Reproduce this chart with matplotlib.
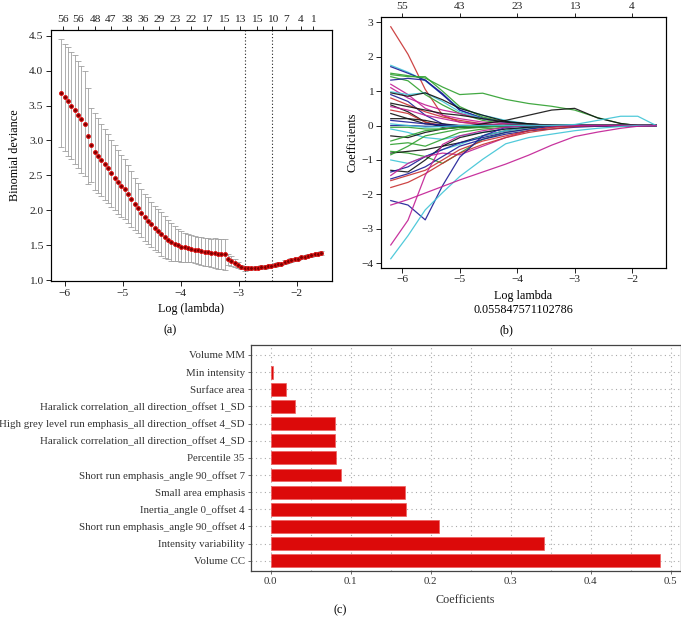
import matplotlib
matplotlib.use("Agg")
import matplotlib.pyplot as plt
import numpy as np

plt.rcParams['font.family'] = ['Liberation Serif', 'DejaVu Serif']
plt.rcParams['axes.unicode_minus'] = True

# ---------------- Panel (a): CV curve ----------------
log_lambda = [-6.06, -6.00, -5.945, -5.888, -5.83, -5.773, -5.715, -5.658, -5.60, -5.543,
              -5.485, -5.428, -5.37, -5.313, -5.255, -5.198, -5.14, -5.083, -5.025, -4.968,
              -4.91, -4.853, -4.795, -4.738, -4.68, -4.623, -4.565, -4.508, -4.45, -4.393,
              -4.335, -4.278, -4.22, -4.163, -4.105, -4.048, -3.99, -3.933, -3.875, -3.818,
              -3.76, -3.703, -3.645, -3.588, -3.53, -3.473, -3.415, -3.358, -3.30, -3.243,
              -3.185, -3.128, -3.07, -3.013, -2.955, -2.898, -2.84, -2.783, -2.725, -2.668,
              -2.61, -2.553, -2.495, -2.438, -2.38, -2.323, -2.265, -2.208, -2.15, -2.093,
              -2.035, -1.978, -1.92, -1.863, -1.805, -1.748, -1.69, -1.633, -1.575]
cv_mean = [3.68, 3.62, 3.56, 3.50, 3.44, 3.37, 3.30, 3.24, 3.06, 2.93,
           2.84, 2.78, 2.72, 2.66, 2.60, 2.53, 2.47, 2.41, 2.35, 2.30,
           2.23, 2.16, 2.09, 2.03, 1.96, 1.90, 1.85, 1.80, 1.75, 1.71,
           1.66, 1.62, 1.58, 1.55, 1.52, 1.50, 1.48, 1.47, 1.46, 1.45,
           1.44, 1.43, 1.42, 1.41, 1.40, 1.39, 1.39, 1.38, 1.38, 1.37,
           1.30, 1.28, 1.25, 1.22, 1.19, 1.17, 1.17, 1.17, 1.18, 1.18,
           1.19, 1.19, 1.20, 1.21, 1.22, 1.23, 1.24, 1.26, 1.27, 1.29,
           1.30, 1.31, 1.33, 1.34, 1.35, 1.36, 1.37, 1.38, 1.39]
cv_se = [0.77, 0.765, 0.775, 0.77, 0.78, 0.765, 0.76, 0.75, 0.685, 0.53,
         0.555, 0.535, 0.52, 0.505, 0.495, 0.475, 0.465, 0.455, 0.445, 0.43,
         0.415, 0.40, 0.375, 0.36, 0.345, 0.335, 0.335, 0.325, 0.315, 0.31,
         0.31, 0.30, 0.28, 0.27, 0.25, 0.23, 0.22, 0.21, 0.20, 0.195,
         0.19, 0.19, 0.195, 0.20, 0.20, 0.205, 0.21, 0.215, 0.215, 0.22,
         0.08, 0.07, 0.06, 0.045, 0.035, 0.03, 0.025, 0.025, 0.025, 0.025,
         0.025, 0.025, 0.025, 0.025, 0.025, 0.025, 0.025, 0.025, 0.025, 0.025,
         0.025, 0.025, 0.022, 0.022, 0.022, 0.022, 0.022, 0.022, 0.022]
lambda_min_log = -2.885
lambda_1se_log = -2.42
top_a_pos = [-6.04, -5.77, -5.48, -5.21, -4.93, -4.65, -4.38, -4.10, -3.82, -3.55,
             -3.26, -2.98, -2.69, -2.42, -2.18, -1.93, -1.72]
top_a_labels = ['56', '56', '48', '47', '38', '36', '29', '23', '22', '17',
                '15', '13', '15', '10', '7', '4', '1']

# ---------------- Panel (b): coefficient paths ----------------
path_x = [-6.2, -5.9, -5.6, -5.3, -5.0, -4.6, -4.2, -3.8, -3.4, -3.0, -2.6, -2.2, -1.9, -1.58]
paths = [
    ('red',     [2.87, 2.07, 1.05, 0.30, 0.10, 0.02, 0, 0, 0, 0, 0, 0, 0, 0]),
    ('cyan',    [1.75, 1.55, 1.30, 0.90, 0.50, 0.30, 0.15, 0.05, 0, 0, 0, 0, 0, 0]),
    ('blue',    [1.71, 1.52, 1.32, 0.90, 0.45, 0.22, 0.10, 0.04, 0.02, 0, 0, 0, 0, 0]),
    ('green',   [1.52, 1.45, 1.38, 1.12, 0.90, 0.94, 0.76, 0.64, 0.56, 0.45, 0.23, 0.06, 0, 0]),
    ('green',   [1.48, 1.42, 1.42, 1.00, 0.55, 0.25, 0.10, 0.02, 0, 0, 0, 0, 0, 0]),
    ('green',   [1.42, 1.30, 0.90, 0.60, 0.35, 0.15, 0.05, 0, 0, 0, 0, 0, 0, 0]),
    ('blue',    [1.32, 1.37, 1.32, 0.93, 0.45, 0.20, 0.08, 0.02, 0, 0, 0, 0, 0, 0]),
    ('magenta', [1.20, 0.90, 0.50, 0.30, 0.20, 0.10, 0.05, 0, 0, 0, 0, 0, 0, 0]),
    ('magenta', [1.10, 0.80, 0.60, 0.45, 0.35, 0.20, 0.08, 0.02, 0, 0, 0, 0, 0, 0]),
    ('cyan',    [0.98, 0.90, 0.95, 0.70, 0.40, 0.20, 0.10, 0.03, 0, 0, 0, 0, 0, 0]),
    ('black',   [0.95, 0.85, 0.95, 0.75, 0.50, 0.30, 0.12, 0.05, 0, 0, 0, 0, 0, 0]),
    ('blue',    [0.90, 0.70, 0.30, 0.05, -0.05, -0.02, 0, 0, 0, 0, 0, 0, 0, 0]),
    ('red',     [0.80, 0.60, 0.40, 0.25, 0.15, 0.05, 0, 0, 0, 0, 0, 0, 0, 0]),
    ('black',   [0.65, 0.55, 0.45, 0.35, 0.30, 0.20, 0.10, 0.05, 0, 0, 0, 0, 0, 0]),
    ('black',   [0.60, 0.40, 0.10, -0.05, 0, 0, 0, 0, 0, 0, 0, 0, 0, 0]),
    ('magenta', [0.55, 0.45, 0.30, 0.20, 0.10, 0.05, 0, 0, 0, 0, 0, 0, 0, 0]),
    ('red',     [0.45, 0.35, 0.10, 0, 0, 0, 0, 0, 0, 0, 0, 0, 0, 0]),
    ('black',   [0.35, 0.20, 0.05, 0, -0.05, -0.05, 0, 0, 0, 0, 0, 0, 0, 0]),
    ('black',   [0.20, 0.20, 0.15, 0.05, 0, 0, 0, 0, 0, 0, 0, 0, 0, 0]),
    ('blue',    [0.15, 0.10, 0.05, 0.02, 0, 0, 0, 0, 0, 0, 0, 0, 0, 0]),
    ('blue',    [0.0, 0.0, -0.02, -0.02, -0.02, 0, 0, 0, 0, 0, 0, 0, 0, 0]),
    ('green',   [-0.05, -0.05, -0.10, -0.10, -0.05, 0, 0, 0, 0, 0, 0, 0, 0, 0]),
    ('cyan',    [-0.10, -0.20, -0.35, -0.40, -0.30, -0.20, -0.10, -0.05, 0, 0, 0, 0, 0, 0]),
    ('black',   [-0.30, -0.35, -0.20, -0.10, -0.05, 0.05, 0.15, 0.30, 0.45, 0.50, 0.22, 0.06, 0, 0]),
    ('green',   [-0.45, -0.30, -0.15, -0.10, -0.05, 0, 0, 0, 0, 0, 0, 0, 0, 0]),
    ('green',   [-0.55, -0.50, -0.60, -0.40, -0.20, -0.10, -0.05, 0, 0, 0, 0, 0, 0, 0]),
    ('green',   [-0.75, -0.80, -0.90, -1.10, -0.80, -0.40, -0.20, -0.10, 0, 0, 0, 0, 0, 0]),
    ('black',   [-0.80, -0.75, -0.70, -0.60, -0.50, -0.30, -0.15, -0.05, 0, 0, 0, 0, 0, 0]),
    ('green',   [-0.85, -0.60, -0.30, -0.20, -0.10, -0.05, 0, 0, 0, 0, 0, 0, 0, 0]),
    ('cyan',    [-1.00, -1.10, -0.90, -0.70, -0.55, -0.30, -0.15, -0.05, 0, 0, 0, 0, 0, 0]),
    ('black',   [-1.30, -1.35, -1.00, -0.60, -0.35, -0.20, -0.10, -0.05, 0, 0, 0, 0, 0, 0]),
    ('blue',    [-1.35, -1.20, -0.90, -0.70, -0.50, -0.35, -0.20, -0.10, -0.03, 0, 0, 0, 0, 0]),
    ('magenta', [-1.45, -1.10, -0.90, -0.80, -0.85, -0.60, -0.35, -0.15, -0.05, 0, 0, 0, 0, 0]),
    ('blue',    [-1.55, -1.40, -1.20, -0.90, -0.60, -0.40, -0.25, -0.15, -0.10, -0.05, -0.02, 0, 0, 0]),
    ('red',     [-1.60, -1.45, -1.30, -1.00, -0.70, -0.45, -0.30, -0.15, -0.05, 0, 0, 0, 0, 0]),
    ('red',     [-1.80, -1.65, -1.40, -1.10, -0.80, -0.55, -0.35, -0.20, -0.10, -0.03, 0, 0, 0, 0]),
    ('blue',    [-2.18, -2.31, -2.74, -1.75, -0.92, -0.30, -0.05, 0, 0, 0, 0, 0, 0, 0]),
    ('magenta', [-3.47, -2.75, -1.45, -0.55, -0.30, -0.15, -0.05, 0, 0, 0, 0, 0, 0, 0]),
    ('cyan',    [-3.87, -3.20, -2.45, -1.95, -1.48, -0.98, -0.53, -0.35, -0.25, -0.15, -0.08, -0.03, 0, 0]),
    ('cyan',    [0.05, 0.0, -0.05, -0.03, 0, 0, 0, 0, 0, 0.03, 0.15, 0.27, 0.27, 0.0]),
    ('magenta', [-2.31, -2.15, -1.96, -1.77, -1.58, -1.35, -1.12, -0.86, -0.57, -0.32, -0.19, -0.08, -0.02, 0]),
]
path_colors = {'black': '#111111', 'red': '#c83232', 'green': '#2ea02e',
               'blue': '#1c1c96', 'cyan': '#3ec4d6', 'magenta': '#c21e94'}
top_b_pos = [-6, -5, -4, -3, -2]
top_b_labels = ['55', '43', '23', '13', '4']
lambda_text = '0.055847571102786'

# ---------------- Panel (c): selected features ----------------
features = ['Volume CC', 'Intensity variability', 'Short run emphasis_angle 90_offset 4',
            'Inertia_angle 0_offset 4', 'Small area emphasis',
            'Short run emphasis_angle 90_offset 7', 'Percentile 35',
            'Haralick correlation_all direction_offset 4_SD',
            'High grey level run emphasis_all direction_offset 4_SD',
            'Haralick correlation_all direction_offset 1_SD', 'Surface area',
            'Min intensity', 'Volume MM']
coefs = [0.487, 0.342, 0.211, 0.169, 0.168, 0.088, 0.082, 0.081, 0.080, 0.030, 0.019, 0.003, 0.0]

FS = 8.2
FS_C = 7.8
fig = plt.figure(figsize=(6.81, 6.24), dpi=100)
W, H = 681.0, 624.0

def box(l, t, r, b):
    return [l / W, 1 - b / H, (r - l) / W, (b - t) / H]

# ---- (a)
axa = fig.add_axes(box(51, 30, 331.5, 281))
axa.errorbar(log_lambda, cv_mean, yerr=cv_se, fmt='none', ecolor='#a0a0a0',
             elinewidth=0.6, capsize=2.4, capthick=0.6, zorder=1)
axa.plot(log_lambda, cv_mean, linestyle='none', marker='o', markersize=2.8,
         markerfacecolor='#7a0000', markeredgecolor='#e01010', markeredgewidth=0.7, zorder=3)
axa.axvline(lambda_min_log, color='#222222', linestyle=(0, (1, 2)), lw=0.8)
axa.axvline(lambda_1se_log, color='#222222', linestyle=(0, (1, 2)), lw=0.8)
axa.set_xlim(-6.24, -1.40)
axa.set_ylim(0.99, 4.58)
axa.set_xticks([-6, -5, -4, -3, -2])
axa.set_yticks([1.0, 1.5, 2.0, 2.5, 3.0, 3.5, 4.0, 4.5])
axa.set_yticklabels(['1.0', '1.5', '2.0', '2.5', '3.0', '3.5', '4.0', '4.5'])
axa.tick_params(direction='out', length=3.5, width=0.7, labelsize=FS, colors='#222222', pad=2)
axa.set_xlabel('Log (lambda)', fontsize=FS + 0.5, labelpad=4)
axa.set_ylabel('Binomial deviance', fontsize=FS + 0.5, labelpad=6)
for s in axa.spines.values():
    s.set_linewidth(0.8)
    s.set_color('#333333')
axa_top = axa.twiny()
axa_top.set_xlim(axa.get_xlim())
axa_top.set_xticks(top_a_pos)
axa_top.set_xticklabels(top_a_labels)
axa_top.tick_params(direction='out', length=3, width=0.7, labelsize=FS, colors='#222222', pad=1.5)

# ---- (b)
axb = fig.add_axes(box(381, 17.3, 666, 267.7))
for col, vals in paths:
    axb.plot(path_x, vals, color=path_colors[col], lw=0.9, alpha=0.9)
axb.set_xlim(-6.37, -1.41)
axb.set_ylim(-4.13, 3.145)
axb.set_xticks([-6, -5, -4, -3, -2])
axb.set_yticks([-4, -3, -2, -1, 0, 1, 2, 3])
axb.tick_params(direction='out', length=3.5, width=0.7, labelsize=FS, colors='#222222', pad=2)
axb.set_xlabel('Log lambda\n' + lambda_text, fontsize=FS + 0.5, labelpad=4, linespacing=1.2)
axb.set_ylabel('Coefficients', fontsize=FS + 0.5, labelpad=2)
for s in axb.spines.values():
    s.set_linewidth(0.8)
    s.set_color('#333333')
axb_top = axb.twiny()
axb_top.set_xlim(axb.get_xlim())
axb_top.set_xticks(top_b_pos)
axb_top.set_xticklabels(top_b_labels)
axb_top.tick_params(direction='out', length=3, width=0.7, labelsize=FS, colors='#222222', pad=1.5)

# ---- (c)
axc = fig.add_axes(box(251, 345, 680.5, 570.7))
ypos = np.arange(len(features))
bar_lw = [0.5 if c > 0 else 0.0 for c in coefs]
axc.barh(ypos, coefs, height=0.75, color='#dc0a0a', edgecolor='#ee6060', linewidth=bar_lw, zorder=3)
axc.set_yticks(ypos)
axc.set_yticklabels(features)
axc.set_xlim(-0.0246, 0.5125)
axc.set_ylim(-0.58, len(features) - 1 + 0.58)
axc.set_xticks([0.0, 0.1, 0.2, 0.3, 0.4, 0.5])
axc.set_xticklabels(['0.0', '0.1', '0.2', '0.3', '0.4', '0.5'])
axc.set_xticks([0.05, 0.15, 0.25, 0.35, 0.45], minor=True)
axc.grid(True, which='major', axis='both', color='#aaaaaa', linestyle=(0, (1, 3)), lw=0.8, zorder=0)
axc.grid(True, which='minor', axis='x', color='#aaaaaa', linestyle=(0, (1, 3)), lw=0.8, zorder=0)
axc.tick_params(which='major', direction='out', length=2.5, width=0.6, labelsize=FS_C,
                colors='#555555', labelcolor='#333333', pad=2)
axc.tick_params(which='minor', length=0)
axc.set_xlabel('Coefficients', fontsize=FS + 0.5, color='#333333', labelpad=6)
axc.set_axisbelow(True)
for s in axc.spines.values():
    s.set_linewidth(0.9)
    s.set_color('#444444')

# ---- panel letters
fig.text(170 / W, 1 - 330 / H, '(a)', ha='center', va='center', fontsize=FS + 0.5)
fig.text(506 / W, 1 - 330 / H, '(b)', ha='center', va='center', fontsize=FS + 0.5)
fig.text(340 / W, 1 - 610 / H, '(c)', ha='center', va='center', fontsize=FS + 0.5)

fig.savefig('out.png', dpi=100)
